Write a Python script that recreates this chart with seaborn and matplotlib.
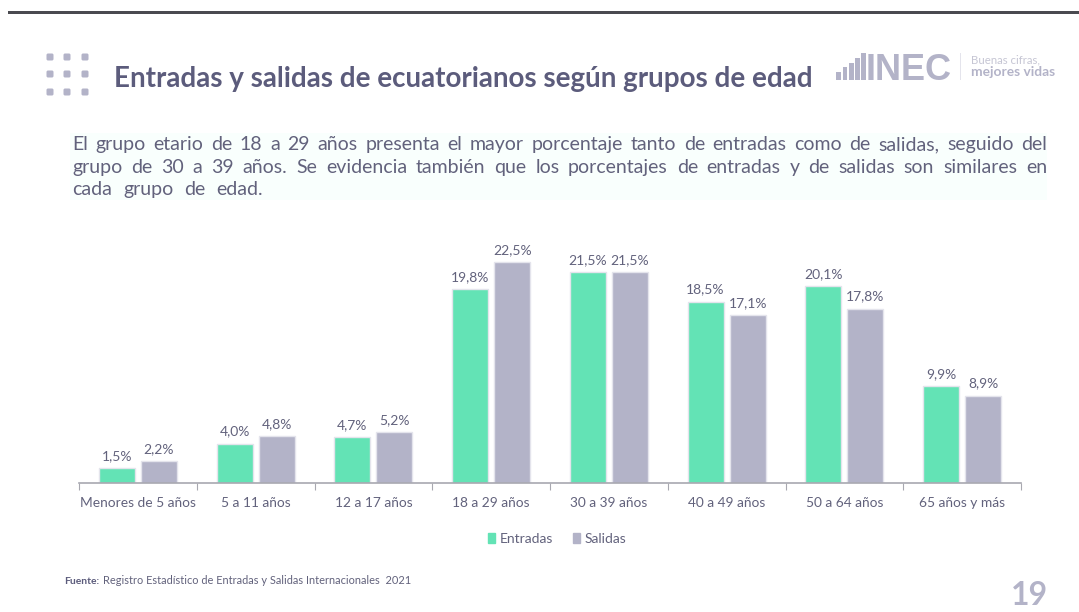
import matplotlib
matplotlib.use("Agg")
import matplotlib.pyplot as plt
from matplotlib.patches import FancyBboxPatch, Rectangle
import seaborn as sns
import pandas as pd

categories = ["Menores de 5 años", "5 a 11 años", "12 a 17 años", "18 a 29 años",
              "30 a 39 años", "40 a 49 años", "50 a 64 años", "65 años y más"]
entradas = [1.5, 4.0, 4.7, 19.8, 21.5, 18.5, 20.1, 9.9]
salidas = [2.2, 4.8, 5.2, 22.5, 21.5, 17.1, 17.8, 8.9]
series_names = ["Entradas", "Salidas"]
title = "Entradas y salidas de ecuatorianos según grupos de edad"
body_lines = ["El grupo etario de 18 a 29 años presenta el mayor porcentaje tanto de entradas como de salidas, seguido del",
              "grupo de 30 a 39 años.  Se evidencia también que los porcentajes de entradas y de salidas son similares en",
              "cada grupo de edad."]

W, H = 1079, 612
GREEN, GRAY, EDGE = "#63E3B5", "#B3B3C8", "#E4E4EC"
TXT, DARK = "#62627C", "#5C5C7C"
FONT = "Lato"

sns.set_theme(style="white")
plt.rcParams["font.family"] = [FONT, "DejaVu Sans"]

fig = plt.figure(figsize=(W / 100, H / 100), dpi=100, facecolor="white")
def fx(x): return x / W
def fy(y): return 1 - y / H

top = 240; bottom = 483; left = 79; right = 1021
ax = fig.add_axes([fx(left), fy(bottom), (right - left) / W, (bottom - top) / H])

df = pd.DataFrame({"Grupo": categories * 2,
                   "Serie": [series_names[0]] * 8 + [series_names[1]] * 8,
                   "Valor": entradas + salidas})
sns.barplot(data=df, x="Grupo", y="Valor", hue="Serie", hue_order=series_names,
            palette=[GREEN, GRAY], saturation=1, width=0.714, gap=0.14, ax=ax, legend=False,
            edgecolor=EDGE, linewidth=1.0, order=categories)
ax.set_xlim(-0.5, 7.5)
ax.set_ylim(0, (bottom - top) / 9.8)
ax.set_xlabel(""); ax.set_ylabel(""); ax.set_yticks([])
for s in ["top", "left", "right"]:
    ax.spines[s].set_visible(False)
ax.spines["bottom"].set_color("#A8A8B0")
ax.spines["bottom"].set_linewidth(1.2)
ax.set_xticks([i - 0.5 for i in range(9)], minor=True)
ax.tick_params(axis="x", which="minor", length=5, width=0.8, color="#A8A8B0", bottom=True)
ax.tick_params(axis="x", which="major", length=0, pad=10, labelsize=9.9, labelcolor=TXT)

for c in ax.containers:
    ax.bar_label(c, labels=[f"{v.get_height():.1f}%".replace(".", ",") for v in c],
                 padding=4.5, fontsize=10, color=TXT)

# legend as real handles
handles = [Rectangle((0, 0), 1, 1, color=GREEN), Rectangle((0, 0), 1, 1, color=GRAY)]
fig.legend(handles, series_names, loc="center", bbox_to_anchor=(fx(557.5), fy(539)), ncol=2,
           frameon=False, fontsize=10, labelcolor=TXT, handlelength=0.5, handleheight=0.7,
           handletextpad=0.35, columnspacing=1.4)

# page decoration
fig.add_artist(Rectangle((fx(8), fy(13.5)), (W - 8) / W, 2.2 / H, transform=fig.transFigure,
                         color="#4A4A50", lw=0))
fig.add_artist(Rectangle((fx(70), fy(200)), 977 / W, 67 / H, transform=fig.transFigure,
                         color="#F9FFFD", lw=0))
for cx in (50, 67, 85):
    for cy in (57, 74, 92):
        fig.add_artist(FancyBboxPatch((cx - 2.5, H - cy - 2.5), 5, 5, boxstyle="round,pad=1,rounding_size=1.5",
                                      transform=None, color="#B3B3C8", lw=0))

fig.text(fx(114), fy(87), title, fontsize=20, fontweight="bold", color=DARK, va="baseline", ha="left")

# justified paragraph
renderer = fig.canvas.get_renderer()
def width(s, size):
    t = fig.text(0, 0, s, fontsize=size)
    w = t.get_window_extent(renderer).width
    t.remove()
    return w
ys = [150, 173, 195]
size = 14.0
for i, line in enumerate(body_lines):
    words = line.split()
    ws = [width(w, size) for w in words]
    space = width("a a", size) - width("aa", size)
    if i < 2:
        space = (1047 - 72 - sum(ws)) / (len(words) - 1)
    else:
        space *= 2.2
    x = 72
    for w, wd in zip(words, ws):
        fig.text(fx(x), fy(ys[i]), w, fontsize=size, color=TXT, va="baseline", ha="left")
        x += wd + space

# source
fig.text(fx(64), fy(584), "Fuente:", fontsize=7.4, fontweight="bold", color=DARK, va="baseline")
fig.text(fx(103), fy(584), "Registro Estadístico de Entradas y Salidas Internacionales  2021",
         fontsize=7.9, color=TXT, va="baseline")
fig.text(fx(1048), fy(605), "19", fontsize=23, fontweight="bold", color="#B3B3C8", va="baseline", ha="right")

# logo
for lx, ly in zip((836, 842.5, 849, 855, 861), (72, 67, 63, 58, 53)):
    fig.add_artist(Rectangle((fx(lx), fy(80)), 4.5 / W, (80 - ly) / H, transform=fig.transFigure,
                             color="#B3B3C8", lw=0))
fig.text(fx(866), fy(80), "INEC", fontsize=26, fontweight="bold", color="#B3B3C8", va="baseline", ha="left",
         fontfamily="Liberation Sans")
fig.add_artist(Rectangle((fx(960), fy(80)), 1 / W, 27 / H, transform=fig.transFigure, color="#E4E4EC", lw=0))
fig.text(fx(971), fy(63), "Buenas cifras,", fontsize=8.2, color="#C6C6D4", va="baseline")
fig.text(fx(971), fy(76), "mejores vidas", fontsize=9.9, fontweight="bold", color="#B3B3C8", va="baseline")

fig.savefig("out.png", dpi=100, facecolor="white")
